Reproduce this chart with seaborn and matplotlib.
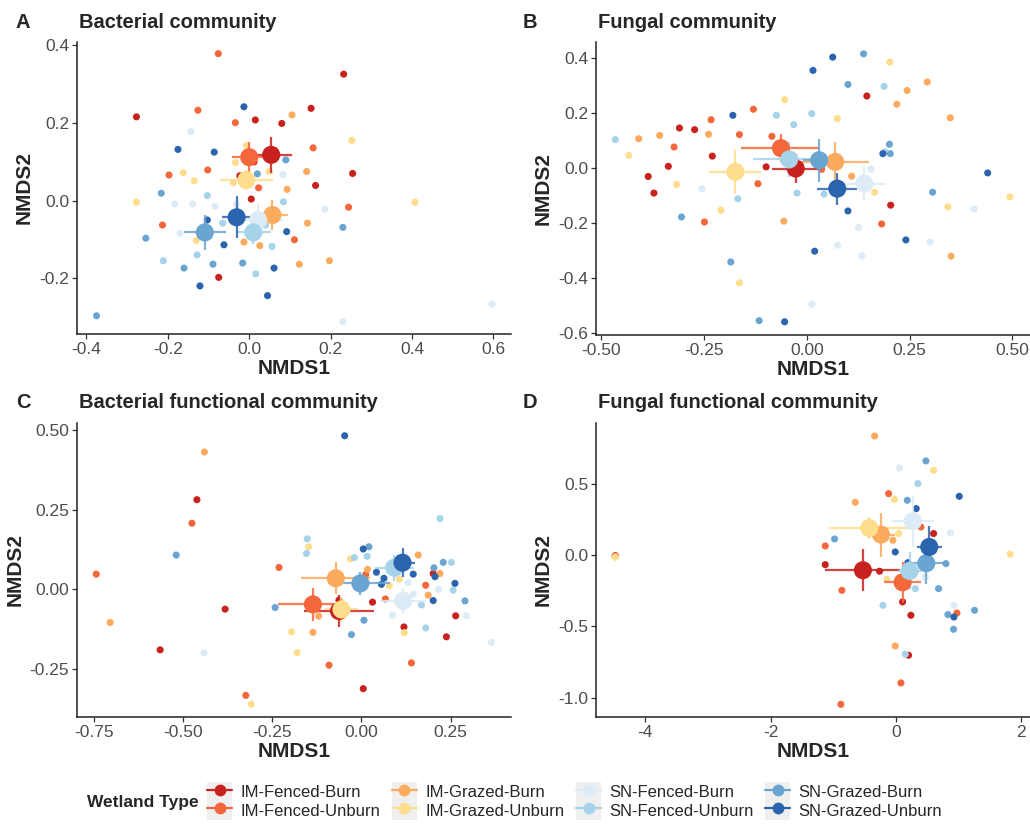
import pandas as pd
import matplotlib
matplotlib.use("Agg")
import matplotlib.pyplot as plt
import seaborn as sns
from matplotlib.lines import Line2D
from matplotlib.patches import Patch
from matplotlib.legend_handler import HandlerTuple

groups = ["IM-Fenced-Burn", "IM-Fenced-Unburn", "IM-Grazed-Burn", "IM-Grazed-Unburn",
          "SN-Fenced-Burn", "SN-Fenced-Unburn", "SN-Grazed-Burn", "SN-Grazed-Unburn"]
colors = ["#C9211E", "#F4673B", "#FCAA5D", "#FEDD8D", "#DCEBF6", "#A6D3EA", "#6AA5D2", "#2A64AE"]

# --- A: bacterial community (sample points per group) ---
bac_pts = {
    "IM-Fenced-Burn": [(-0.277, 0.216), (0.232, 0.326), (0.152, 0.238), (0.015, 0.208), (0.080, 0.199),
                       (0.254, 0.070), (0.163, 0.039), (-0.023, 0.064), (0.005, 0.004), (-0.075, -0.198), (0.012, 0.100)],
    "IM-Fenced-Unburn": [(-0.076, 0.379), (-0.126, 0.233), (-0.034, 0.201), (0.157, 0.136), (-0.197, 0.066),
                         (-0.102, 0.079), (0.023, 0.033), (0.244, -0.017), (-0.213, -0.063), (0.111, -0.101)],
    "IM-Grazed-Burn": [(0.105, 0.221), (0.141, 0.075), (0.093, 0.029), (0.143, -0.058), (-0.013, -0.107),
                       (0.026, -0.116), (0.123, -0.164), (0.197, -0.155)],
    "IM-Grazed-Unburn": [(0.252, 0.155), (-0.007, 0.142), (-0.162, 0.072), (-0.135, 0.051), (-0.034, 0.098),
                         (-0.039, 0.046), (0.049, 0.075), (-0.277, -0.004), (0.407, -0.004), (-0.130, -0.103)],
    "SN-Fenced-Burn": [(-0.143, 0.178), (-0.183, -0.009), (-0.139, -0.009), (-0.084, -0.015), (-0.170, -0.084),
                       (0.083, 0.067), (0.186, -0.022), (0.230, -0.312), (0.596, -0.267), (-0.032, -0.010)],
    "SN-Fenced-Unburn": [(-0.103, 0.013), (-0.065, -0.058), (-0.128, -0.140), (-0.211, -0.155), (0.016, -0.189),
                         (0.056, -0.118), (0.040, -0.063), (0.084, -0.003)],
    "SN-Grazed-Burn": [(0.090, 0.105), (0.020, 0.069), (-0.216, 0.019), (-0.254, -0.097), (-0.160, -0.174),
                       (-0.089, -0.164), (-0.016, -0.161), (-0.375, -0.297), (0.230, -0.069)],
    "SN-Grazed-Unburn": [(-0.013, 0.242), (-0.175, 0.132), (-0.086, 0.125), (-0.103, -0.050), (-0.062, -0.114),
                         (-0.121, -0.220), (0.045, -0.245), (0.092, -0.080), (0.061, -0.174)],
}
bac_cx = [0.054, 0.000, 0.057, -0.007, 0.022, 0.010, -0.109, -0.031]
bac_cy = [0.118, 0.112, -0.037, 0.053, -0.050, -0.082, -0.082, -0.043]
bac_ex = [0.051, 0.042, 0.039, 0.065, 0.060, 0.043, 0.051, 0.037]
bac_ey = [0.047, 0.039, 0.039, 0.025, 0.040, 0.030, 0.045, 0.054]

# --- B: fungal community ---
fun_pts = {
    "IM-Fenced-Burn": [(-0.310, 0.145), (-0.273, 0.139), (-0.230, 0.043), (-0.337, 0.006), (-0.386, -0.031),
                       (-0.372, -0.091), (-0.099, 0.004), (0.146, 0.261), (0.204, -0.135)],
    "IM-Fenced-Unburn": [(-0.130, 0.213), (-0.233, 0.175), (-0.164, 0.121), (-0.085, 0.115), (-0.323, 0.076),
                         (-0.119, -0.057), (-0.249, -0.196), (0.182, -0.203), (0.036, -0.005)],
    "IM-Grazed-Burn": [(-0.409, 0.106), (-0.358, 0.118), (-0.239, 0.122), (0.293, 0.312), (0.244, 0.281),
                       (0.219, 0.231), (0.349, 0.182), (0.109, -0.030), (-0.056, -0.193), (0.351, -0.320)],
    "IM-Grazed-Unburn": [(-0.433, 0.046), (-0.317, -0.060), (-0.209, -0.153), (-0.164, -0.417), (-0.054, 0.248),
                         (0.074, 0.179), (0.202, 0.384), (0.165, -0.088), (0.343, -0.141), (0.494, -0.105)],
    "SN-Fenced-Burn": [(-0.255, -0.076), (0.156, -0.004), (0.126, -0.216), (0.075, -0.280), (0.134, -0.319),
                       (0.012, -0.494), (0.300, -0.269), (0.407, -0.149)],
    "SN-Fenced-Unburn": [(-0.466, 0.103), (-0.074, 0.191), (-0.032, 0.157), (0.012, 0.197), (0.188, 0.296),
                         (-0.024, -0.091), (0.042, -0.095), (-0.168, -0.112), (0.190, 0.058)],
    "SN-Grazed-Burn": [(0.138, 0.414), (0.100, 0.303), (0.201, 0.086), (0.203, 0.052), (0.306, -0.088),
                       (-0.305, -0.178), (-0.185, -0.341), (-0.116, -0.554)],
    "SN-Grazed-Unburn": [(0.063, 0.402), (0.015, 0.354), (-0.180, 0.191), (0.185, 0.052), (0.440, -0.018),
                         (0.100, -0.156), (0.241, -0.261), (0.019, -0.302), (-0.054, -0.558)],
}
fun_cx = [-0.027, -0.063, 0.069, -0.174, 0.140, -0.043, 0.030, 0.074]
fun_cy = [-0.002, 0.072, 0.022, -0.014, -0.057, 0.031, 0.028, -0.075]
fun_ex = [0.057, 0.096, 0.083, 0.063, 0.053, 0.089, 0.040, 0.049]
fun_ey = [0.053, 0.050, 0.072, 0.080, 0.063, 0.063, 0.078, 0.058]

# --- C: bacterial functional community ---
bfun_pts = {
    "IM-Fenced-Burn": [(-0.461, 0.282), (-0.382, -0.062), (-0.564, -0.190), (0.005, -0.312), (-0.063, -0.034),
                       (0.031, -0.040), (0.119, -0.118), (0.264, -0.083), (0.238, -0.149), (0.201, 0.050)],
    "IM-Fenced-Unburn": [(-0.743, 0.048), (-0.475, 0.208), (-0.231, 0.069), (-0.324, -0.333), (-0.091, -0.238),
                         (0.140, -0.231), (0.012, 0.047), (0.180, 0.013), (0.067, -0.030)],
    "IM-Grazed-Burn": [(-0.440, 0.432), (-0.704, -0.104), (-0.120, -0.084), (0.017, 0.063), (0.159, 0.108),
                       (0.220, 0.050), (0.187, -0.018), (-0.136, -0.135)],
    "IM-Grazed-Unburn": [(-0.309, -0.361), (-0.180, -0.199), (-0.196, -0.133), (-0.148, 0.134), (0.120, -0.136),
                         (0.078, 0.012), (0.106, 0.032), (-0.031, 0.096)],
    "SN-Fenced-Burn": [(-0.441, -0.199), (0.364, -0.167), (0.294, -0.083), (0.087, -0.081), (0.145, -0.015),
                       (0.131, 0.021), (0.216, 0.000)],
    "SN-Fenced-Unburn": [(-0.152, 0.159), (-0.154, 0.113), (-0.020, 0.100), (0.016, 0.104), (0.168, -0.049),
                         (0.180, -0.121), (0.252, 0.085), (0.220, 0.223), (0.257, -0.002)],
    "SN-Grazed-Burn": [(-0.519, 0.108), (-0.242, -0.057), (0.007, -0.097), (-0.028, -0.142), (0.203, 0.068),
                       (0.229, 0.085), (0.290, -0.036), (0.021, 0.134)],
    "SN-Grazed-Unburn": [(-0.047, 0.483), (0.005, 0.127), (0.042, 0.054), (0.063, 0.035), (0.056, 0.016),
                         (0.145, 0.048), (0.206, 0.040), (0.262, 0.019), (0.201, -0.035)],
}
bfun_cx = [-0.063, -0.136, -0.072, -0.056, 0.117, 0.092, -0.003, 0.115]
bfun_cy = [-0.068, -0.047, 0.035, -0.063, -0.036, 0.068, 0.019, 0.084]
bfun_ex = [0.097, 0.098, 0.096, 0.047, 0.065, 0.054, 0.082, 0.036]
bfun_ey = [0.050, 0.053, 0.050, 0.040, 0.040, 0.040, 0.035, 0.045]

# --- D: fungal functional community ---
ffun_pts = {
    "IM-Fenced-Burn": [(-1.128, -0.068), (-0.261, -0.114), (0.106, -0.329), (0.239, -0.423), (0.202, -0.703),
                       (0.601, 0.150), (-4.48, -0.005)],
    "IM-Fenced-Unburn": [(-1.128, 0.063), (-0.862, -0.248), (-0.117, 0.430), (0.080, -0.897), (-0.878, -1.047),
                         (0.399, 0.196), (0.973, -0.407), (-4.48, -0.008)],
    "IM-Grazed-Burn": [(-0.340, 0.834), (-0.649, 0.369), (-0.048, 0.103), (-0.011, -0.638), (-4.48, -0.012)],
    "IM-Grazed-Unburn": [(1.824, 0.005), (-0.021, 0.390), (0.043, 0.150), (-0.144, -0.171), (0.601, 0.593),
                         (-4.48, -0.016)],
    "SN-Fenced-Burn": [(0.059, 0.610), (0.867, 0.154), (0.926, -0.353), (0.468, -0.154)],
    "SN-Fenced-Unburn": [(0.351, 0.500), (-0.207, -0.353), (0.149, -0.696), (0.309, -0.236)],
    "SN-Grazed-Burn": [(-0.979, 0.112), (0.181, 0.383), (0.479, 0.659), (0.681, -0.236), (0.798, -0.061),
                       (0.830, -0.418), (0.920, -0.521), (1.255, -0.388)],
    "SN-Grazed-Unburn": [(0.324, 0.325), (-0.011, 0.021), (1.011, 0.411), (0.926, -0.435), (0.191, -0.054)],
}
ffun_cx = [-0.527, 0.106, -0.239, -0.426, 0.271, 0.218, 0.484, 0.532]
ffun_cy = [-0.107, -0.192, 0.143, 0.189, 0.236, -0.112, -0.058, 0.056]
ffun_ex = [0.60, 0.29, 0.23, 0.64, 0.34, 0.18, 0.31, 0.20]
ffun_ey = [0.148, 0.142, 0.154, 0.080, 0.180, 0.130, 0.146, 0.145]

sns.set_style("white")
plt.rcParams["font.family"] = ["Liberation Sans", "DejaVu Sans"]
plt.rcParams["axes.unicode_minus"] = False

fig = plt.figure(figsize=(10.3, 8.26), dpi=100)
W, H = 1030, 826


def make_ax(l, t, r, b):
    return fig.add_axes([l / W, 1 - b / H, (r - l) / W, (b - t) / H])


panels = [
    ("A", "Bacterial community", make_ax(77, 42, 511, 334), bac_pts, bac_cx, bac_cy, bac_ex, bac_ey,
     (-0.423, 0.643), (-0.344, 0.409), [-0.4, -0.2, 0.0, 0.2, 0.4, 0.6], [-0.2, 0.0, 0.2, 0.4], "%.1f", "%.1f"),
    ("B", "Fungal community", make_ax(596, 42, 1030, 335), fun_pts, fun_cx, fun_cy, fun_ex, fun_ey,
     (-0.513, 0.543), (-0.606, 0.457), [-0.5, -0.25, 0.0, 0.25, 0.5], [-0.6, -0.4, -0.2, 0.0, 0.2, 0.4], "%.2f", "%.1f"),
    ("C", "Bacterial functional community", make_ax(77, 423, 511, 717), bfun_pts, bfun_cx, bfun_cy, bfun_ex, bfun_ey,
     (-0.797, 0.419), (-0.401, 0.523), [-0.75, -0.5, -0.25, 0.0, 0.25], [-0.25, 0.0, 0.25, 0.5], "%.2f", "%.2f"),
    ("D", "Fungal functional community", make_ax(596, 423, 1030, 717), ffun_pts, ffun_cx, ffun_cy, ffun_ex, ffun_ey,
     (-4.787, 2.14), (-1.136, 0.925), [-4, -2, 0, 2], [-1.0, -0.5, 0.0, 0.5], "%d", "%.1f"),
]

pal = dict(zip(groups, colors))

for letter, title, ax, pts, cx, cy, ex, ey, xl, yl, xt, yt, xf, yf in panels:
    rows = [(g, x, y) for g in groups for (x, y) in pts[g]]
    df = pd.DataFrame(rows, columns=["grp", "NMDS1", "NMDS2"])
    sns.scatterplot(data=df, x="NMDS1", y="NMDS2", hue="grp", palette=pal, s=26,
                    linewidth=0, legend=False, ax=ax, zorder=2)
    for i, g in enumerate(groups):
        ax.errorbar(cx[i], cy[i], xerr=ex[i], yerr=ey[i], color=colors[i], lw=1.6,
                    alpha=0.85, capsize=0, zorder=3)
    cdf = pd.DataFrame({"grp": groups, "NMDS1": cx, "NMDS2": cy})
    sns.scatterplot(data=cdf, x="NMDS1", y="NMDS2", hue="grp", palette=pal, s=170,
                    linewidth=0, legend=False, ax=ax, zorder=4)

    ax.set_xlim(*xl)
    ax.set_ylim(*yl)
    ax.set_xticks(xt)
    ax.set_yticks(yt)
    ax.set_xticklabels([xf % v for v in xt])
    ax.set_yticklabels([yf % v for v in yt])
    ax.tick_params(axis="both", labelsize=12.5, labelcolor="#4d4d4d", color="#333333",
                   length=3.5, width=0.9, direction="out", left=True, bottom=True, pad=2)
    sns.despine(ax=ax)
    for side in ["left", "bottom"]:
        ax.spines[side].set_linewidth(1.1)
        ax.spines[side].set_color("#222222")
    ax.set_xlabel("NMDS1", fontsize=15, fontweight="bold", labelpad=2)
    ax.set_ylabel("NMDS2", fontsize=15, fontweight="bold", labelpad=4)

    pos = ax.get_position()
    top_px = (1 - pos.y1) * H
    fig.text(23 / W if pos.x0 < 0.5 else 530 / W, 1 - (top_px - 20) / H, letter,
             fontsize=14.5, fontweight="bold", va="center", ha="center")
    fig.text(pos.x0 + 2 / W, 1 - (top_px - 20) / H, title,
             fontsize=14.5, fontweight="bold", va="center", ha="left")

# legend at bottom: grey key box with a line + point
handles = []
for c in colors:
    bg = Patch(facecolor="#efefef", edgecolor="none")
    ln = Line2D([], [], color=c, lw=1.6)
    mk = Line2D([], [], color=c, lw=0, marker="o", markersize=8.5, markeredgewidth=0)
    handles.append((bg, ln, mk))

fig.legend(handles, groups, handler_map={tuple: HandlerTuple(ndivide=1, pad=0)},
           loc="center left", bbox_to_anchor=(207 / W, 1 - 801 / H), ncol=4, frameon=False,
           fontsize=12, handlelength=1.5, handleheight=1.35, handletextpad=0.5,
           columnspacing=0.7, labelspacing=0.0, borderpad=0, borderaxespad=0)
fig.text(87 / W, 1 - 803 / H, "Wetland Type", fontsize=12.5, fontweight="bold", va="center", ha="left")

fig.savefig("out.png", dpi=100, facecolor="white")
